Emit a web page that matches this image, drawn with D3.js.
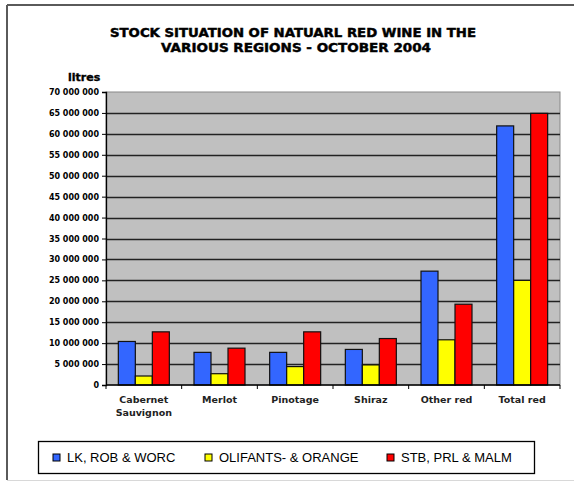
<!DOCTYPE html>
<html><head><meta charset="utf-8">
<script src="https://cdn.jsdelivr.net/npm/d3@7"></script>
<style>body{margin:0;background:#fff}svg{display:block}</style>
</head><body>
<script>
const categories = [["Cabernet","Sauvignon"],["Merlot"],["Pinotage"],["Shiraz"],["Other red"],["Total red"]];
const seriesNames = ["LK, ROB & WORC","OLIFANTS- & ORANGE","STB, PRL & MALM"];
const lkRobWorc = [10400000, 7800000, 7800000, 8500000, 27200000, 61900000];
const olifantsOrange = [2150000, 2700000, 4400000, 4800000, 10800000, 25000000];
const stbPrlMalm = [12700000, 8800000, 12700000, 11100000, 19300000, 64900000];
const yTicks = [0,5e6,10e6,15e6,20e6,25e6,30e6,35e6,40e6,45e6,50e6,55e6,60e6,65e6,70e6];
const colors = ["#3366ff","#ffff00","#ff0000"];
const titleLines = ["STOCK SITUATION OF NATUARL RED WINE IN THE","VARIOUS REGIONS - OCTOBER 2004"];

const W=574,H=482;
const svg=d3.select("body").append("svg").attr("width",W).attr("height",H);
// outer frame
svg.append("line").attr("x1",7).attr("x2",574).attr("y1",5).attr("y2",5).attr("stroke","#5a5a5a").attr("stroke-width",2);
svg.append("line").attr("x1",7).attr("x2",7).attr("y1",5).attr("y2",480).attr("stroke","#5a5a5a").attr("stroke-width",2);
svg.append("line").attr("x1",7).attr("x2",574).attr("y1",480.5).attr("y2",480.5).attr("stroke","#d8d8d8").attr("stroke-width",1);

// title
const tl=[[293,37,366],[296,52,270]];
titleLines.forEach((t,i)=>{
  svg.append("text").attr("x",tl[i][0]).attr("y",tl[i][1]).attr("text-anchor","middle")
   .attr("font-family","DejaVu Sans").attr("font-weight","bold").attr("font-size",12)
   .attr("stroke","#000").attr("stroke-width",0.45)
   .attr("textLength",tl[i][2]).attr("lengthAdjust","spacingAndGlyphs").text(t);
});
svg.append("text").attr("x",68).attr("y",81).attr("font-family","DejaVu Sans").attr("font-weight","bold").attr("font-size",11)
  .attr("stroke","#000").attr("stroke-width",0.35).text("litres");

const L=106,R=560,T=92,B=385;
const y=d3.scaleLinear().domain([0,70e6]).range([B,T]);
const x0=d3.scaleBand().domain(d3.range(categories.length)).range([L,R]).paddingInner(0.326).paddingOuter(0.163);
const x1=d3.scaleBand().domain(d3.range(3)).range([0,x0.bandwidth()]);

svg.append("rect").attr("x",L).attr("y",T).attr("width",R-L).attr("height",B-T).attr("fill","#c0c0c0").attr("stroke","#888").attr("stroke-width",1);
svg.append("g").selectAll("line").data(yTicks.filter(v=>v>0&&v<70e6)).join("line")
  .attr("x1",L).attr("x2",R).attr("y1",d=>Math.round(y(d))+0.5).attr("y2",d=>Math.round(y(d))+0.5)
  .attr("stroke","#222").attr("stroke-width",1.4);

const series=[lkRobWorc,olifantsOrange,stbPrlMalm];
const g=svg.append("g");
categories.forEach((c,i)=>{
  series.forEach((s,j)=>{
    g.append("rect").attr("x",x0(i)+x1(j)).attr("y",y(s[i])).attr("width",x1.bandwidth()).attr("height",B-y(s[i]))
     .attr("fill",colors[j]).attr("stroke","#111").attr("stroke-width",1.2);
  });
});

// y axis
const ya=svg.append("g").attr("transform",`translate(${L},0)`).call(d3.axisLeft(y).tickValues(yTicks).tickSize(4).tickPadding(3)
  .tickFormat(d=>d3.format(",")(d).replace(/,/g," ")));
ya.select(".domain").attr("stroke","#000").attr("stroke-width",1.3);
ya.selectAll(".tick line").attr("stroke","#000");
ya.selectAll("text").attr("font-family","DejaVu Sans").attr("font-weight","bold").attr("font-size",8).attr("fill","#000");

// x axis
const step=x0.step();
const bounds=d3.range(categories.length+1).map(i=>L+i*step);
svg.append("line").attr("x1",L).attr("x2",R).attr("y1",B).attr("y2",B).attr("stroke","#000").attr("stroke-width",1.3);
svg.append("g").selectAll("line").data(bounds).join("line").attr("x1",d=>d).attr("x2",d=>d).attr("y1",B).attr("y2",B+4).attr("stroke","#000");
categories.forEach((c,i)=>{
  const t=svg.append("text").attr("text-anchor","middle").attr("font-family","DejaVu Sans").attr("font-weight","bold").attr("font-size",9.5).attr("fill","#222");
  c.forEach((ln,k)=>t.append("tspan").attr("x",x0(i)+x0.bandwidth()/2).attr("y",403+k*13).text(ln));
});

// legend
svg.append("rect").attr("x",38.5).attr("y",441.5).attr("width",496).attr("height",32).attr("fill","#fff").attr("stroke","#000").attr("stroke-width",1.3);
const lx=[53,205,387];
seriesNames.forEach((n,j)=>{
  svg.append("rect").attr("x",lx[j]).attr("y",454).attr("width",7).attr("height",7).attr("fill",colors[j]).attr("stroke","#000").attr("stroke-width",1);
  svg.append("text").attr("x",lx[j]+14).attr("y",462).attr("font-family","Liberation Sans").attr("font-size",13).text(n);
});
</script>
</body></html>
